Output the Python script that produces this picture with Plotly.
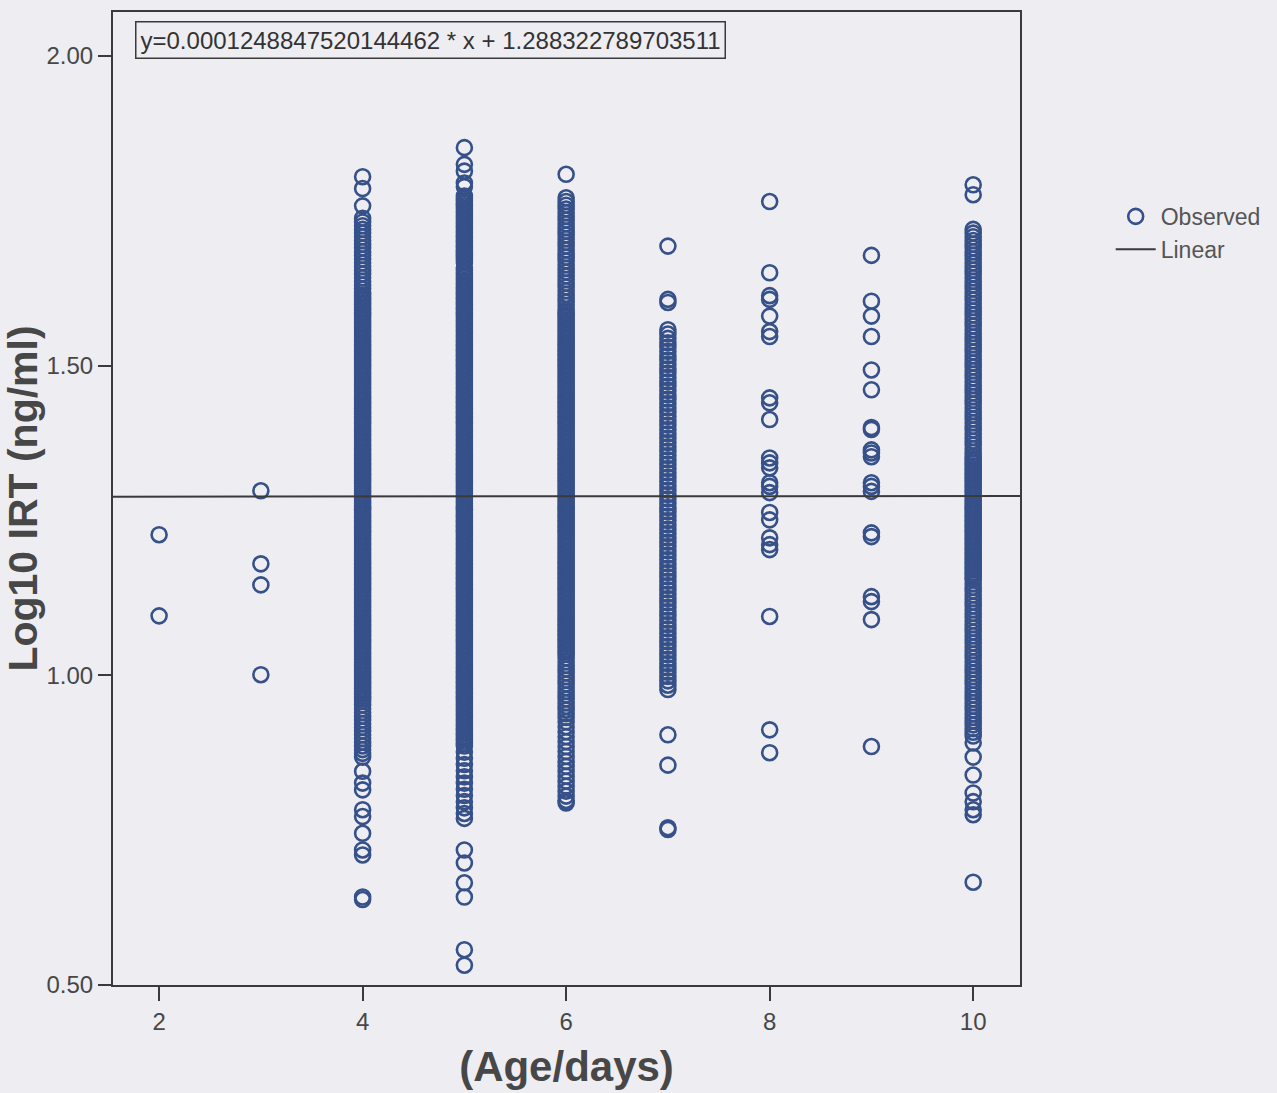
import plotly.graph_objects as go

# ---------------- data ----------------
ages = [2, 3, 4, 5, 6, 7, 8, 9, 10]

age2 = [1.227, 1.096]
age3 = [1.298, 1.180, 1.146, 1.001]

age4 = [
    1.805, 1.786, 1.758,
    1.738, 1.732, 1.726, 1.720, 1.714, 1.708, 1.702, 1.696, 1.690, 1.684, 1.678, 1.672,
    1.666, 1.660, 1.654, 1.648, 1.642, 1.636, 1.630, 1.624, 1.618,
    0.958, 0.962, 0.966, 0.970, 0.974, 0.978, 0.982, 0.986, 0.990, 0.994,
    0.998, 1.002, 1.006, 1.010, 1.014, 1.018, 1.022, 1.026, 1.030, 1.034,
    1.038, 1.042, 1.046, 1.050, 1.054, 1.058, 1.062, 1.066, 1.070, 1.074,
    1.078, 1.082, 1.086, 1.090, 1.094, 1.098, 1.102, 1.106, 1.110, 1.114,
    1.118, 1.122, 1.126, 1.130, 1.134, 1.138, 1.142, 1.146, 1.150, 1.154,
    1.158, 1.162, 1.166, 1.170, 1.174, 1.178, 1.182, 1.186, 1.190, 1.194,
    1.198, 1.202, 1.206, 1.210, 1.214, 1.218, 1.222, 1.226, 1.230, 1.234,
    1.238, 1.242, 1.246, 1.250, 1.254, 1.258, 1.262, 1.266, 1.270, 1.274,
    1.278, 1.282, 1.286, 1.290, 1.294, 1.298, 1.302, 1.306, 1.310, 1.314,
    1.318, 1.322, 1.326, 1.330, 1.334, 1.338, 1.342, 1.346, 1.350, 1.354,
    1.358, 1.362, 1.366, 1.370, 1.374, 1.378, 1.382, 1.386, 1.390, 1.394,
    1.398, 1.402, 1.406, 1.410, 1.414, 1.418, 1.422, 1.426, 1.430, 1.434,
    1.438, 1.442, 1.446, 1.450, 1.454, 1.458, 1.462, 1.466, 1.470, 1.474,
    1.478, 1.482, 1.486, 1.490, 1.494, 1.498, 1.502, 1.506, 1.510, 1.514,
    1.518, 1.522, 1.526, 1.530, 1.534, 1.538, 1.542, 1.546, 1.550, 1.554,
    1.558, 1.562, 1.566, 1.570, 1.574, 1.578, 1.582, 1.586, 1.590, 1.594,
    1.598, 1.602, 1.606, 1.610, 1.614,
    0.952, 0.946, 0.940, 0.934, 0.928, 0.922, 0.916, 0.910, 0.904, 0.898,
    0.892, 0.886, 0.880, 0.874, 0.868,
    0.845, 0.826, 0.815, 0.783, 0.772, 0.745, 0.718, 0.710, 0.642, 0.638,
]

age5 = [
    1.852, 1.825, 1.814, 1.795, 1.789,
    0.886, 0.890, 0.894, 0.898, 0.902, 0.906, 0.910, 0.914, 0.918, 0.922,
    0.926, 0.930, 0.934, 0.938, 0.942, 0.946, 0.950, 0.954,
    0.958, 0.962, 0.966, 0.970, 0.974, 0.978, 0.982, 0.986, 0.990, 0.994,
    0.998, 1.002, 1.006, 1.010, 1.014, 1.018, 1.022, 1.026, 1.030, 1.034,
    1.038, 1.042, 1.046, 1.050, 1.054, 1.058, 1.062, 1.066, 1.070, 1.074,
    1.078, 1.082, 1.086, 1.090, 1.094, 1.098, 1.102, 1.106, 1.110, 1.114,
    1.118, 1.122, 1.126, 1.130, 1.134, 1.138, 1.142, 1.146, 1.150, 1.154,
    1.158, 1.162, 1.166, 1.170, 1.174, 1.178, 1.182, 1.186, 1.190, 1.194,
    1.198, 1.202, 1.206, 1.210, 1.214, 1.218, 1.222, 1.226, 1.230, 1.234,
    1.238, 1.242, 1.246, 1.250, 1.254, 1.258, 1.262, 1.266, 1.270, 1.274,
    1.278, 1.282, 1.286, 1.290, 1.294, 1.298, 1.302, 1.306, 1.310, 1.314,
    1.318, 1.322, 1.326, 1.330, 1.334, 1.338, 1.342, 1.346, 1.350, 1.354,
    1.358, 1.362, 1.366, 1.370, 1.374, 1.378, 1.382, 1.386, 1.390, 1.394,
    1.398, 1.402, 1.406, 1.410, 1.414, 1.418, 1.422, 1.426, 1.430, 1.434,
    1.438, 1.442, 1.446, 1.450, 1.454, 1.458, 1.462, 1.466, 1.470, 1.474,
    1.478, 1.482, 1.486, 1.490, 1.494, 1.498, 1.502, 1.506, 1.510, 1.514,
    1.518, 1.522, 1.526, 1.530, 1.534, 1.538, 1.542, 1.546, 1.550, 1.554,
    1.558, 1.562, 1.566, 1.570, 1.574, 1.578, 1.582, 1.586, 1.590, 1.594,
    1.598, 1.602, 1.606, 1.610, 1.614, 1.618, 1.622, 1.626, 1.630, 1.634,
    1.638, 1.642, 1.646, 1.650, 1.654, 1.658, 1.666, 1.670, 1.674,
    1.678, 1.682, 1.686, 1.690, 1.694, 1.698, 1.702, 1.706, 1.710, 1.714,
    1.718, 1.722, 1.726, 1.730, 1.734, 1.738, 1.742, 1.746, 1.750, 1.754,
    1.758, 1.762, 1.766, 1.770, 1.774,
    0.876, 0.866, 0.856, 0.846, 0.836, 0.826, 0.816, 0.806, 0.796, 0.786, 0.777, 0.769,
    0.718, 0.697, 0.665, 0.642, 0.557, 0.532,
]

age6 = [
    1.809,
    1.771, 1.765, 1.759, 1.753, 1.747, 1.741, 1.735, 1.729, 1.723, 1.717,
    1.711, 1.705, 1.699, 1.693, 1.687, 1.681, 1.675, 1.669, 1.663, 1.657,
    1.651, 1.645, 1.639, 1.633, 1.627, 1.621, 1.615, 1.609, 1.603, 1.597,
    1.034, 1.038, 1.042, 1.046, 1.050, 1.054, 1.058, 1.062, 1.066, 1.070, 1.074,
    1.078, 1.082, 1.086, 1.090, 1.094, 1.098, 1.102, 1.106, 1.110, 1.114,
    1.118, 1.122, 1.126, 1.130, 1.134, 1.138, 1.142, 1.146, 1.150, 1.154,
    1.158, 1.162, 1.166, 1.170, 1.174, 1.178, 1.182, 1.186, 1.190, 1.194,
    1.198, 1.202, 1.206, 1.210, 1.214, 1.218, 1.222, 1.226, 1.230, 1.234,
    1.238, 1.242, 1.246, 1.250, 1.254, 1.258, 1.262, 1.266, 1.270, 1.274,
    1.278, 1.282, 1.286, 1.290, 1.294, 1.298, 1.302, 1.306, 1.310, 1.314,
    1.318, 1.322, 1.326, 1.330, 1.334, 1.338, 1.342, 1.346, 1.350, 1.354,
    1.358, 1.362, 1.366, 1.370, 1.374, 1.378, 1.382, 1.386, 1.390, 1.394,
    1.398, 1.402, 1.406, 1.410, 1.414, 1.418, 1.422, 1.426, 1.430, 1.434,
    1.438, 1.442, 1.446, 1.450, 1.454, 1.458, 1.462, 1.466, 1.470, 1.474,
    1.478, 1.482, 1.486, 1.490, 1.494, 1.498, 1.502, 1.506, 1.510, 1.514,
    1.518, 1.522, 1.526, 1.530, 1.534, 1.538, 1.542, 1.546, 1.550, 1.554,
    1.558, 1.562, 1.566, 1.570, 1.574, 1.578, 1.582, 1.586, 1.590,
    1.028, 1.022, 1.016, 1.010, 1.004, 0.998, 0.992, 0.986, 0.980, 0.974,
    0.968, 0.962, 0.956, 0.950, 0.944, 0.938, 0.932,
    0.925, 0.917, 0.909, 0.901, 0.893, 0.885, 0.877, 0.869, 0.861, 0.853,
    0.845, 0.837, 0.829, 0.821, 0.813, 0.805, 0.798, 0.794,
]

age7 = [
    1.693, 1.607, 1.602,
    0.977, 0.984, 0.991, 0.998, 1.005, 1.012, 1.019, 1.026, 1.033, 1.040,
    1.047, 1.054, 1.061, 1.068, 1.075, 1.082, 1.089, 1.096, 1.103, 1.110,
    1.117, 1.124, 1.131, 1.138, 1.145, 1.152, 1.159, 1.166, 1.173, 1.180,
    1.187, 1.194, 1.201, 1.208, 1.215, 1.222, 1.229, 1.236, 1.243, 1.250,
    1.257, 1.264, 1.271, 1.278, 1.285, 1.292, 1.299, 1.306, 1.313, 1.320,
    1.327, 1.334, 1.341, 1.348, 1.355, 1.362, 1.369, 1.376, 1.383, 1.390,
    1.397, 1.404, 1.411, 1.418, 1.425, 1.432, 1.439, 1.446, 1.453, 1.460,
    1.467, 1.474, 1.481, 1.488, 1.495, 1.502, 1.509, 1.516, 1.523, 1.530,
    1.537, 1.544, 1.551, 1.558,
    0.904, 0.855, 0.754, 0.751,
]

age8 = [1.765, 1.650, 1.613, 1.607, 1.580, 1.555, 1.547, 1.448, 1.440, 1.413, 1.351, 1.343,
        1.335, 1.311, 1.305, 1.295, 1.263, 1.251, 1.222, 1.211, 1.203, 1.095, 0.912, 0.875]

age9 = [1.678, 1.604, 1.580, 1.547, 1.493, 1.461, 1.400, 1.397, 1.364, 1.359, 1.353, 1.311,
        1.305, 1.297, 1.230, 1.224, 1.127, 1.119, 1.090, 0.885]

age10 = [
    1.792, 1.776,
    1.720, 1.714, 1.708, 1.702, 1.696, 1.690, 1.684, 1.678, 1.672, 1.666,
    1.660, 1.654, 1.648, 1.642, 1.636, 1.630, 1.624, 1.618, 1.612, 1.606,
    1.600, 1.594, 1.588, 1.582, 1.576, 1.570, 1.564, 1.558, 1.552, 1.546,
    1.540, 1.534, 1.528, 1.522, 1.516, 1.510, 1.504, 1.498, 1.492, 1.486,
    1.480, 1.474, 1.468, 1.462, 1.456, 1.450, 1.444, 1.438, 1.432, 1.426,
    1.420, 1.414, 1.408, 1.402, 1.396, 1.390, 1.384, 1.378, 1.372, 1.366, 1.360, 1.354,
    1.154, 1.158, 1.162, 1.166, 1.170, 1.174, 1.178, 1.182, 1.186, 1.190, 1.194,
    1.198, 1.202, 1.206, 1.210, 1.214, 1.218, 1.222, 1.226, 1.230, 1.234,
    1.238, 1.242, 1.246, 1.250, 1.254, 1.258, 1.262, 1.266, 1.270, 1.274,
    1.278, 1.282, 1.286, 1.290, 1.294, 1.298, 1.302, 1.306, 1.310, 1.314,
    1.318, 1.322, 1.326, 1.330, 1.334, 1.338, 1.342, 1.346, 1.350,
    1.148, 1.142, 1.136, 1.130, 1.124, 1.118, 1.112, 1.106, 1.100, 1.094,
    1.088, 1.082, 1.076, 1.070, 1.064, 1.058, 1.052, 1.046, 1.040, 1.034,
    1.028, 1.022, 1.016, 1.010, 1.004, 0.998, 0.992, 0.986, 0.980, 0.974,
    0.968, 0.962, 0.956, 0.950, 0.944, 0.938, 0.932, 0.926, 0.920, 0.914, 0.908, 0.902,
    0.891, 0.868, 0.839, 0.810, 0.796, 0.783, 0.775, 0.666,
]

slope = 0.0001248847520144462
intercept = 1.288322789703511

x_ticks = [2, 4, 6, 8, 10]
y_ticks = [0.50, 1.00, 1.50, 2.00]
x_range = [1.547, 10.46]
y_range = [0.50, 2.071]

equation_text = "y=0.0001248847520144462 * x + 1.288322789703511"

# ---------------- build ----------------
groups = [age2, age3, age4, age5, age6, age7, age8, age9, age10]
xs, ys = [], []
for a, vals in zip(ages, groups):
    xs += [a] * len(vals)
    ys += vals

ring = "#36508a"
bg = "#ededf2"
axis_col = "#3a3a3a"
text_col = "#474747"
font_fam = "Arial, 'Liberation Sans', sans-serif"

fig = go.Figure()
fig.add_trace(go.Scatter(
    x=xs, y=ys, mode="markers", name="Observed",
    marker=dict(symbol="circle-open", size=15, color=ring, line=dict(width=2.6, color=ring)),
))
fig.add_trace(go.Scatter(
    x=x_range, y=[slope * v + intercept for v in x_range], mode="lines", name="Linear",
    line=dict(color=axis_col, width=2),
))

fig.add_annotation(
    xref="paper", yref="paper", x=0.024, y=0.991, xanchor="left", yanchor="top",
    text=equation_text, showarrow=False,
    font=dict(family=font_fam, size=24, color="#333333"),
    bordercolor=axis_col, borderwidth=1.5, borderpad=4, bgcolor=bg,
)

fig.update_layout(
    width=1277, height=1093,
    margin=dict(l=113, r=257, t=12, b=108, autoexpand=False),
    paper_bgcolor=bg, plot_bgcolor=bg,
    font=dict(family=font_fam, color=text_col),
    showlegend=True,
    legend=dict(x=1.1, xref="paper", y=0.812, yref="paper",
                xanchor="left", yanchor="top",
                font=dict(size=23, color="#555555"),
                bgcolor="rgba(0,0,0,0)", itemwidth=40, tracegroupgap=0),
)

fig.update_xaxes(
    range=x_range, tickvals=x_ticks, ticktext=[str(t) for t in x_ticks],
    showgrid=False, zeroline=False, automargin=False,
    showline=True, linecolor=axis_col, linewidth=2, mirror=True,
    ticks="outside", ticklen=14, tickwidth=2, tickcolor=axis_col,
    tickfont=dict(size=24, color=text_col),
    title=dict(text="<b>(Age/days)</b>", font=dict(size=42, color=text_col), standoff=18),
)
fig.update_yaxes(
    range=y_range, tickvals=y_ticks, ticktext=[f"{t:.2f}" for t in y_ticks],
    showgrid=False, zeroline=False, automargin=False,
    showline=True, linecolor=axis_col, linewidth=2, mirror=True,
    ticks="outside", ticklen=13, tickwidth=2, tickcolor=axis_col,
    tickfont=dict(size=24, color=text_col),
    title=dict(text="<b>Log10 IRT (ng/ml)</b>", font=dict(size=41, color=text_col), standoff=3),
)

fig.write_html(
    "out.html",
    config={"displayModeBar": False},
    post_script="document.body.style.margin='0px';document.body.style.background='%s';" % bg,
)
